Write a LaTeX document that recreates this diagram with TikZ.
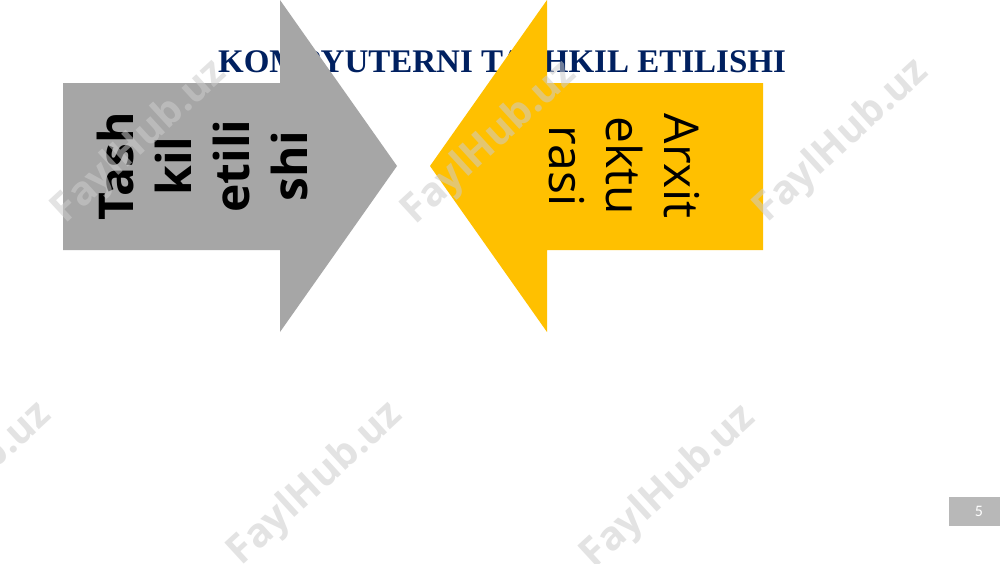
\documentclass[tikz,border=0pt]{standalone}
\usepackage{fontspec}
\setmainfont{Liberation Serif}
\newfontfamily\osans{Open Sans}
\newfontfamily\carl{Carlito}
\definecolor{navy}{HTML}{002060}
\definecolor{arrgray}{HTML}{A6A6A6}
\definecolor{arryellow}{HTML}{FFC000}
\definecolor{pagegray}{HTML}{B8B8B8}
\tikzset{
  arrowtext/.style={align=center, inner sep=0pt, text=black},
  wmark/.style={font=\osans\bfseries\fontsize{40}{40}\selectfont, text=black!20, opacity=0.55, rotate=42.6, inner sep=0pt},
}
\begin{document}
\begin{tikzpicture}[x=1pt,y=-1pt]
\useasboundingbox (0,0) rectangle (1000,563);
\fill[white] (0,0) rectangle (1000,563);
% title
\node[font=\bfseries\fontsize{33}{33}\selectfont, text=navy, anchor=base, inner sep=0pt] (title) at (502,72) {KOMPYUTERNI TASHKIL ETILISHI};
% gray arrow
\fill[arrgray] (63,83) -- (280,83) -- (280,0) -- (397,166) -- (280,332) -- (280,250) -- (63,250) -- cycle;
% yellow arrow
\fill[arryellow] (763,83) -- (547,83) -- (547,0) -- (430,166) -- (547,332) -- (547,250) -- (763,250) -- cycle;
\node[arrowtext, rotate=90, font=\osans\bfseries\fontsize{48}{58}\selectfont] (tash) at (202,166) {Tash\\kil\\etili\\shi};
\node[arrowtext, rotate=-90, font=\osans\fontsize{48}{57.5}\selectfont] (arx) at (624,166) {Arxit\\ektu\\rasi};
% page number
\fill[pagegray] (949,497) rectangle (1000,526);
\node[font=\carl\fontsize{16}{16}\selectfont, text=white] (pnum) at (979,511.5) {5};
% watermarks
\node[wmark] (w1) at (140,142) {FaylHub.uz};
\node[wmark] (w2) at (490,143) {FaylHub.uz};
\node[wmark] (w3) at (842,141) {FaylHub.uz};
\node[wmark] (w4) at (-35,484) {FaylHub.uz};
\node[wmark] (w5) at (316,484) {FaylHub.uz};
\node[wmark] (w6) at (669,487) {FaylHub.uz};
\end{tikzpicture}
\end{document}
